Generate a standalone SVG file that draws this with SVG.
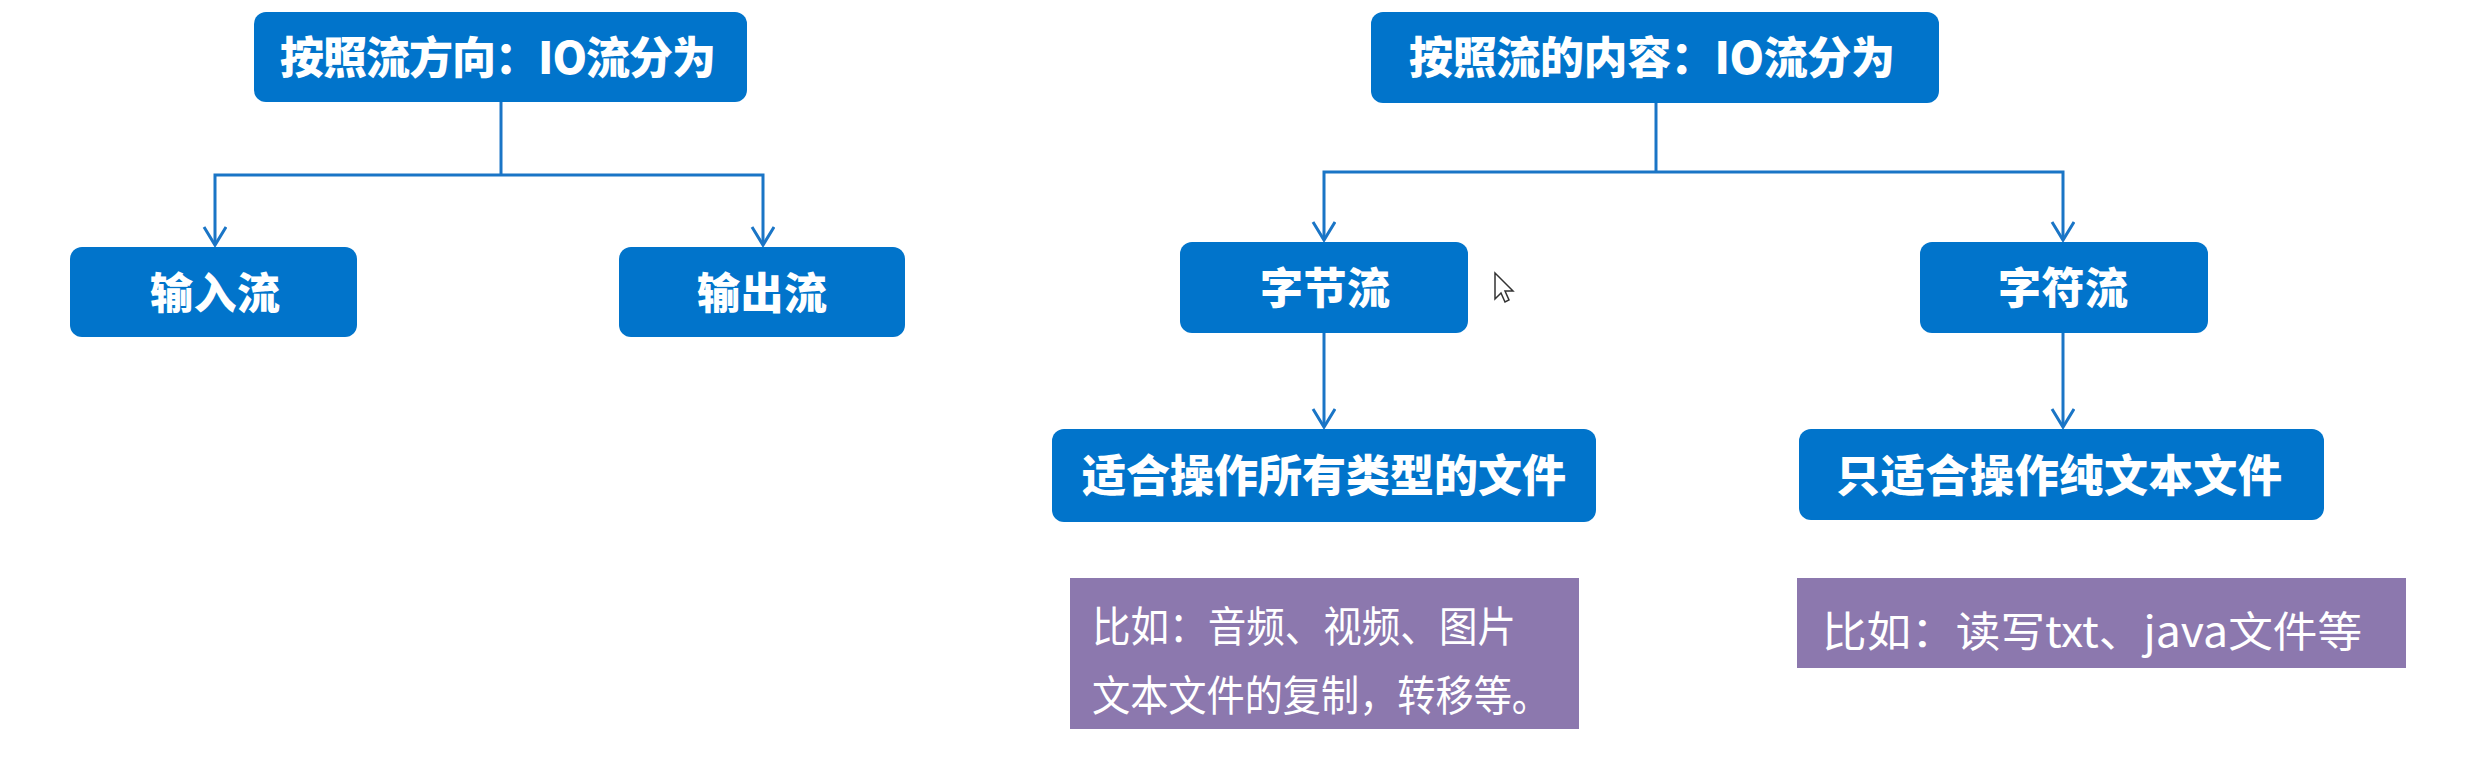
<svg xmlns="http://www.w3.org/2000/svg" width="2476" height="758" viewBox="0 0 2476 758">
<style>
.box{fill:#0174CB;}
.note{fill:#8C78AE;}
.lbl{font-family:"Noto Sans CJK SC","Noto Sans",sans-serif;font-weight:900;fill:#ffffff;text-anchor:middle;dominant-baseline:central;}
.ntxt{font-family:"Noto Sans CJK SC","Noto Sans",sans-serif;font-weight:400;fill:#ffffff;font-size:42px;}
.conn{fill:none;stroke:#1A75C6;stroke-width:3;}
</style>
<defs>
<marker id="arr" markerUnits="userSpaceOnUse" markerWidth="30" markerHeight="30" refX="20" refY="12" orient="auto">
<path d="M2,1 L20,12 L2,23" fill="none" stroke="#1A75C6" stroke-width="3"/>
</marker>
</defs>
<rect width="2476" height="758" fill="#ffffff"/>
<g id="connectors">
<path class="conn" d="M501,102 V175"/>
<path class="conn" d="M501,175 H215 V245" marker-end="url(#arr)"/>
<path class="conn" d="M501,175 H763 V245" marker-end="url(#arr)"/>
<path class="conn" d="M1656,103 V172"/>
<path class="conn" d="M1656,172 H1324 V240" marker-end="url(#arr)"/>
<path class="conn" d="M1656,172 H2063 V240" marker-end="url(#arr)"/>
<path class="conn" d="M1324,333 V427" marker-end="url(#arr)"/>
<path class="conn" d="M2063,333 V427" marker-end="url(#arr)"/>
</g>
<g id="n-direction">
<rect class="box" x="254" y="12" width="493" height="90" rx="12"/>
<text class="lbl" x="498" y="55" font-size="44" textLength="436">按照流方向：IO流分为</text>
</g>
<g id="n-input">
<rect class="box" x="70" y="247" width="287" height="90" rx="12"/>
<text class="lbl" x="215" y="290" font-size="43" textLength="130">输入流</text>
</g>
<g id="n-output">
<rect class="box" x="619" y="247" width="286" height="90" rx="12"/>
<text class="lbl" x="762" y="290" font-size="43" textLength="130">输出流</text>
</g>
<g id="n-content">
<rect class="box" x="1371" y="12" width="568" height="91" rx="12"/>
<text class="lbl" x="1652" y="55" font-size="44" textLength="486">按照流的内容：IO流分为</text>
</g>
<g id="n-byte">
<rect class="box" x="1180" y="242" width="288" height="91" rx="12"/>
<text class="lbl" x="1325" y="285" font-size="43" textLength="130">字节流</text>
</g>
<g id="n-char">
<rect class="box" x="1920" y="242" width="288" height="91" rx="12"/>
<text class="lbl" x="2063" y="285" font-size="43" textLength="130">字符流</text>
</g>
<g id="n-byte-desc">
<rect class="box" x="1052" y="429" width="544" height="93" rx="12"/>
<text class="lbl" x="1324" y="473" font-size="44" textLength="484">适合操作所有类型的文件</text>
</g>
<g id="n-char-desc">
<rect class="box" x="1799" y="429" width="525" height="91" rx="12"/>
<text class="lbl" x="2059" y="473" font-size="44" textLength="446">只适合操作纯文本文件</text>
</g>
<g id="n-byte-note">
<rect class="note" x="1070" y="578" width="509" height="151"/>
<text class="ntxt" x="1092" y="642" textLength="424" lengthAdjust="spacingAndGlyphs">比如：音频、视频、图片</text>
<text class="ntxt" x="1092" y="711" textLength="458" lengthAdjust="spacingAndGlyphs">文本文件的复制，转移等。</text>
</g>
<g id="n-char-note">
<rect class="note" x="1797" y="578" width="609" height="90"/>
<text class="ntxt" x="1822" y="647" textLength="540" lengthAdjust="spacingAndGlyphs">比如：读写txt、java文件等</text>
</g>
<path d="M1495,273 L1495,299 L1501,293 L1505,302 L1509,300 L1505,291 L1513,291 Z" fill="#ffffff" stroke="#333333" stroke-width="1.5"/>
</svg>
